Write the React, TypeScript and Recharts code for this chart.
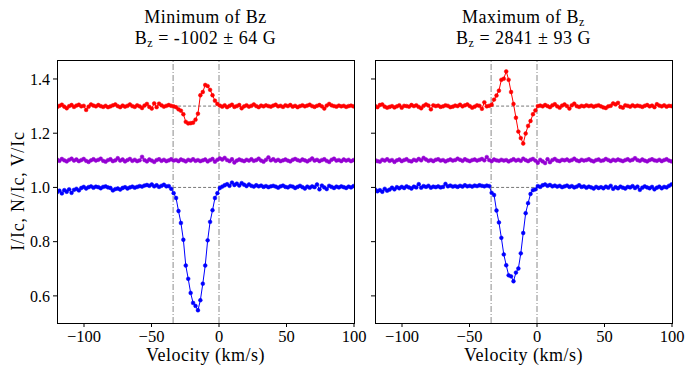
import { LineChart, Line, XAxis, YAxis, ReferenceLine } from 'recharts'

// LSD profiles, velocity grid in km/s (1.8 km/s steps)
const velocity = [
  -120, -118.2, -116.4, -114.6, -112.8, -111, -109.2, -107.4, -105.6, -103.8,
  -102, -100.2, -98.4, -96.6, -94.8, -93, -91.2, -89.4, -87.6, -85.8,
  -84, -82.2, -80.4, -78.6, -76.8, -75, -73.2, -71.4, -69.6, -67.8,
  -66, -64.2, -62.4, -60.6, -58.8, -57, -55.2, -53.4, -51.6, -49.8,
  -48, -46.2, -44.4, -42.6, -40.8, -39, -37.2, -35.4, -33.6, -31.8,
  -30, -28.2, -26.4, -24.6, -22.8, -21, -19.2, -17.4, -15.6, -13.8,
  -12, -10.2, -8.4, -6.6, -4.8, -3, -1.2, 0.6, 2.4, 4.2,
  6, 7.8, 9.6, 11.4, 13.2, 15, 16.8, 18.6, 20.4, 22.2,
  24, 25.8, 27.6, 29.4, 31.2, 33, 34.8, 36.6, 38.4, 40.2,
  42, 43.8, 45.6, 47.4, 49.2, 51, 52.8, 54.6, 56.4, 58.2,
  60, 61.8, 63.6, 65.4, 67.2, 69, 70.8, 72.6, 74.4, 76.2,
  78, 79.8, 81.6, 83.4, 85.2, 87, 88.8, 90.6, 92.4, 94.2,
  96, 97.8, 99.6,
]

// minimum of Bz: Stokes V (+0.3), null N (+0.1), intensity I
const minV = [
  1.296, 1.301, 1.305, 1.298, 1.292, 1.300, 1.304, 1.297, 1.302, 1.305,
  1.299, 1.301, 1.286, 1.298, 1.306, 1.302, 1.299, 1.304, 1.300, 1.297,
  1.301, 1.296, 1.299, 1.303, 1.306, 1.300, 1.296, 1.302, 1.298, 1.301,
  1.306, 1.300, 1.297, 1.303, 1.299, 1.293, 1.302, 1.308, 1.297, 1.291,
  1.310, 1.296, 1.309, 1.303, 1.298, 1.301, 1.304,
  1.301, 1.299, 1.296, 1.288, 1.283, 1.270, 1.242, 1.236, 1.237, 1.239,
  1.250, 1.272, 1.340, 1.352, 1.378, 1.374, 1.360, 1.340, 1.320, 1.308, 1.302,
  1.298, 1.303, 1.296, 1.301, 1.305, 1.297, 1.300, 1.304, 1.292, 1.299,
  1.303, 1.298, 1.301, 1.306, 1.300, 1.296, 1.302, 1.299, 1.303, 1.300,
  1.298, 1.302, 1.305, 1.299, 1.301, 1.297, 1.303, 1.300, 1.304, 1.298,
  1.301, 1.296, 1.300, 1.303, 1.299, 1.302, 1.305, 1.300, 1.297, 1.301,
  1.304, 1.299, 1.291, 1.302, 1.308, 1.303, 1.300, 1.298, 1.302, 1.299,
  1.301, 1.297, 1.300, 1.302, 1.299,
]
const minN = [
  1.103, 1.098, 1.105, 1.100, 1.096, 1.102, 1.106, 1.099, 1.103, 1.097,
  1.101, 1.105, 1.098, 1.094, 1.100, 1.104, 1.099, 1.102, 1.106, 1.098,
  1.095, 1.101, 1.104, 1.097, 1.100, 1.108, 1.099, 1.103, 1.096, 1.101,
  1.105, 1.098, 1.102, 1.097, 1.100, 1.113, 1.101, 1.096, 1.103, 1.099,
  1.094, 1.101, 1.104, 1.098, 1.102, 1.097, 1.100, 1.104, 1.099, 1.101,
  1.097, 1.103, 1.100, 1.096, 1.102, 1.099, 1.104, 1.098, 1.101, 1.097,
  1.100, 1.103, 1.096, 1.101, 1.105, 1.095, 1.102, 1.107, 1.103, 1.109,
  1.101, 1.097, 1.104, 1.092, 1.099, 1.103, 1.100, 1.097, 1.102, 1.099,
  1.104, 1.098, 1.101, 1.106, 1.099, 1.095, 1.102, 1.111, 1.100, 1.104,
  1.098, 1.102, 1.097, 1.100, 1.103, 1.099, 1.096, 1.102, 1.105, 1.101,
  1.098, 1.103, 1.100, 1.096, 1.101, 1.107, 1.099, 1.102, 1.097, 1.101,
  1.104, 1.098, 1.094, 1.102, 1.106, 1.099, 1.101, 1.097, 1.103, 1.099,
  1.102, 1.097, 1.101,
]
const minI = [
  0.982, 0.988, 0.978, 0.990, 0.984, 0.993, 0.980, 0.991, 0.995, 0.989,
  0.998, 1.002, 0.996, 1.001, 1.004, 0.999, 1.003, 1.001, 0.997, 1.002,
  1.004, 1.000, 0.998, 0.989, 0.994, 0.996, 0.992, 0.998, 1.001, 0.996,
  1.000, 1.003, 0.999, 1.002, 1.005, 1.003, 1.007, 1.009, 1.006, 1.011,
  1.004, 1.008, 1.002, 1.006, 1.010, 1.004,
  1.005, 0.995, 0.979, 0.961, 0.913, 0.869, 0.807, 0.712, 0.663, 0.611,
  0.574, 0.563, 0.547, 0.584, 0.645, 0.712, 0.805, 0.873, 0.916, 0.961,
  0.979, 0.998,
  1.003, 1.008, 1.012, 1.006, 1.018, 1.009, 1.014, 1.007, 1.016, 1.010,
  1.005, 1.011, 1.006, 1.003, 1.008, 1.004, 1.007, 1.002, 1.005, 1.001,
  1.004, 1.006, 1.003, 0.999, 1.004, 1.007, 1.002, 1.000, 1.005, 1.003,
  0.998, 1.002, 1.006, 1.001, 0.996, 1.003, 0.999, 1.004, 1.001, 1.011,
  0.993, 1.007, 1.000, 0.994, 1.006, 1.002, 0.998, 1.003, 1.000, 1.004,
  1.001, 0.998, 1.003, 1.000, 1.005,
]

// maximum of Bz
const maxV = [
  1.301, 1.296, 1.304, 1.306, 1.298, 1.294, 1.297, 1.300, 1.295, 1.299,
  1.303, 1.294, 1.301, 1.300, 1.298, 1.304, 1.300, 1.303, 1.297, 1.292,
  1.301, 1.306, 1.302, 1.288, 1.303, 1.300, 1.302, 1.297, 1.299, 1.303,
  1.301, 1.296, 1.298, 1.302, 1.300, 1.305, 1.299, 1.303, 1.306, 1.300,
  1.294, 1.298, 1.303, 1.301, 1.290,
  1.314, 1.299, 1.301, 1.305, 1.324, 1.339, 1.357, 1.397, 1.401, 1.428,
  1.397, 1.352, 1.308, 1.257, 1.206, 1.182, 1.162, 1.199, 1.227, 1.245,
  1.270, 1.284, 1.300,
  1.302, 1.299, 1.304, 1.300, 1.296, 1.303, 1.307, 1.299, 1.294, 1.302,
  1.306, 1.300, 1.291, 1.303, 1.309, 1.300, 1.297, 1.301, 1.299, 1.303,
  1.300, 1.302, 1.298, 1.301, 1.303, 1.299, 1.295, 1.293, 1.299, 1.301,
  1.310, 1.306, 1.312, 1.297, 1.294, 1.303, 1.301, 1.298, 1.303, 1.299,
  1.302, 1.300, 1.297, 1.301, 1.304, 1.299, 1.302, 1.296, 1.307, 1.302,
  1.299, 1.303, 1.298, 1.301, 1.300,
]
const maxN = [
  1.101, 1.097, 1.095, 1.102, 1.099, 1.104, 1.098, 1.101, 1.094, 1.100,
  1.103, 1.097, 1.101, 1.104, 1.098, 1.096, 1.102, 1.099, 1.105, 1.100,
  1.109, 1.103, 1.098, 1.101, 1.097, 1.102, 1.104, 1.099, 1.101, 1.096,
  1.100, 1.103, 1.099, 1.101, 1.106, 1.102, 1.098, 1.104, 1.100, 1.097,
  1.101, 1.103, 1.099, 1.102, 1.105, 1.100, 1.112, 1.101, 1.097, 1.103,
  1.100, 1.098, 1.102, 1.099, 1.101, 1.096, 1.100, 1.104, 1.099, 1.102,
  1.098, 1.106, 1.101, 1.097, 1.102, 1.105, 1.099, 1.091, 1.102, 1.096,
  1.090, 1.104, 1.093, 1.101, 1.105, 1.099, 1.097, 1.102, 1.100, 1.103,
  1.098, 1.101, 1.106, 1.100, 1.097, 1.102, 1.099, 1.101, 1.104, 1.099,
  1.096, 1.101, 1.103, 1.098, 1.100, 1.105, 1.101, 1.097, 1.102, 1.099,
  1.103, 1.100, 1.097, 1.101, 1.104, 1.099, 1.102, 1.108, 1.101, 1.098,
  1.103, 1.099, 1.096, 1.101, 1.104, 1.100, 1.098, 1.102, 1.097, 1.101,
  1.104, 1.099, 1.096,
]
const maxI = [
  0.993, 0.986, 0.990, 0.984, 0.995, 0.988, 0.992, 0.999, 0.993, 1.001,
  0.997, 1.002, 0.998, 1.004, 1.000, 0.996, 1.003, 1.000, 1.012, 0.999,
  1.005, 1.002, 1.006, 0.999, 1.003, 1.001, 1.004, 1.000, 1.002, 1.013,
  1.004, 1.007, 1.003, 1.005, 1.002, 1.006, 1.003, 1.008, 1.004, 1.006,
  1.003, 1.007, 1.005, 1.008, 1.006, 1.004, 1.007, 1.005,
  0.980, 0.972, 0.915, 0.871, 0.814, 0.753, 0.713, 0.676, 0.672, 0.654,
  0.686, 0.701, 0.757, 0.832, 0.905, 0.942, 0.976, 0.990, 0.993, 1.005,
  1.002, 1.008, 1.011, 1.006, 1.009, 1.004, 1.007, 1.003, 1.006, 1.001,
  1.004, 1.007, 1.002, 1.005, 1.000, 1.003, 1.008, 1.002, 1.004, 0.999,
  1.003, 1.000, 0.996, 1.002, 0.998, 1.001, 0.997, 1.003, 0.999, 1.006,
  0.995, 1.001, 0.997, 1.003, 0.999, 0.996, 1.002, 1.000, 1.005, 0.998,
  1.003, 0.991, 0.999, 1.004, 1.000, 0.997, 1.002, 0.993, 0.999, 1.003,
  0.997, 1.002, 1.000, 1.006, 1.011,
]

const xTicks = [-100, -50, 0, 50, 100]
const yTicks = [0.6, 0.8, 1.0, 1.2, 1.4]
const lineLimits = [-34, 0]

const font = '"Liberation Serif", "DejaVu Serif", serif'
const W = 688
const H = 368
const TOP = 60
const XAXIS_H = 45

const fmtX = (t: number) => (t < 0 ? '\u2212' + Math.abs(t) : String(t))

function Panel({ v, n, i, plotLeft, showLabels }: any) {
  const data = velocity.map((x, k) => ({ x, v: v[k], n: n[k], i: i[k] }))
  const yw = showLabels ? 49 : 10
  const plotW = 297
  return (
    <div style={{ position: 'absolute', left: 0, top: 0 }}>
      <LineChart
        width={W}
        height={H}
        data={data}
        margin={{ top: TOP, left: plotLeft - yw, right: W - plotLeft - plotW, bottom: 0 }}
      >
        <XAxis
          dataKey="x"
          type="number"
          domain={[-120, 100]}
          allowDataOverflow
          ticks={xTicks}
          tickFormatter={fmtX}
          height={XAXIS_H}
          axisLine={false}
          tickSize={4}
          tickMargin={3}
          tickLine={{ stroke: '#000' }}
          tick={{ fill: '#000', fontSize: 16.5, fontFamily: font }}
        />
        <YAxis
          type="number"
          domain={[0.5, 1.47]}
          allowDataOverflow
          ticks={yTicks}
          width={yw}
          axisLine={false}
          tickSize={4}
          tickMargin={3}
          tickLine={{ stroke: '#000' }}
          tickFormatter={(t: number) => (showLabels ? t.toFixed(1) : '')}
          tick={{ fill: '#000', fontSize: 16, fontFamily: font }}
        />
        {lineLimits.map((x) => (
          <ReferenceLine key={x} x={x} stroke="#8a8a8a" strokeDasharray="6 2 1 2" />
        ))}
        <ReferenceLine
          segment={[{ x: lineLimits[0], y: 1.3 }, { x: lineLimits[1], y: 1.3 }]}
          stroke="#777"
          strokeDasharray="3 2"
        />
        <ReferenceLine
          segment={[{ x: lineLimits[0], y: 1.0 }, { x: lineLimits[1], y: 1.0 }]}
          stroke="#777"
          strokeDasharray="3 2"
        />
        <Line dataKey="v" type="linear" stroke="#ff0000" strokeWidth={1}
          dot={{ r: 1.9, fill: '#ff0000', stroke: '#ff0000', strokeWidth: 0.5 }} isAnimationActive={false} />
        <Line dataKey="n" type="linear" stroke="#9400d3" strokeWidth={1}
          dot={{ r: 1.9, fill: '#9400d3', stroke: '#9400d3', strokeWidth: 0.5 }} isAnimationActive={false} />
        <Line dataKey="i" type="linear" stroke="#0000ff" strokeWidth={1}
          dot={{ r: 1.9, fill: '#0000ff', stroke: '#0000ff', strokeWidth: 0.5 }} isAnimationActive={false} />
      </LineChart>
      <div
        style={{
          position: 'absolute', left: plotLeft, top: TOP, width: plotW + 1, height: H - TOP - XAXIS_H + 1,
          border: '1px solid #000', boxSizing: 'border-box', pointerEvents: 'none',
        }}
      />
    </div>
  )
}

const textStyle: any = { fontFamily: font, fontSize: 18, color: '#000', letterSpacing: 0.5, whiteSpace: 'nowrap' }
const sub = <span style={{ fontSize: 12, position: 'relative', top: 3, lineHeight: '12px' }}>z</span>

function Title({ cx, line1, line2 }: any) {
  return (
    <div style={{ ...textStyle, position: 'absolute', left: cx - 150, top: 7, width: 300, textAlign: 'center', lineHeight: '21px' }}>
      <div style={{ height: 21 }}>{line1}</div>
      <div style={{ height: 21 }}>{line2}</div>
    </div>
  )
}

function XLabel({ cx }: any) {
  return (
    <div style={{ ...textStyle, position: 'absolute', left: cx - 100, top: 344, width: 200, textAlign: 'center', lineHeight: '22px' }}>
      Velocity (km/s)
    </div>
  )
}

export default function App() {
  return (
    <div style={{ position: 'absolute', left: 0, top: 0, width: W, height: H, background: '#fff', overflow: 'hidden' }}>
      <Panel v={minV} n={minN} i={minI} plotLeft={57} showLabels />
      <Panel v={maxV} n={maxN} i={maxI} plotLeft={375} showLabels={false} />
      <Title cx={205.5} line1="Minimum of Bz" line2={<span>B{sub} = -1002 ± 64 G</span>} />
      <Title cx={523.5} line1={<span>Maximum of B{sub}</span>} line2={<span>B{sub} = 2841 ± 93 G</span>} />
      <XLabel cx={205.5} />
      <XLabel cx={523.5} />
      <div
        style={{
          ...textStyle, position: 'absolute', left: 18, top: 191, letterSpacing: 0.8,
          transform: 'translate(-50%, -50%) rotate(-90deg)', lineHeight: '20px',
        }}
      >
        I/Ic, N/Ic, V/Ic
      </div>
    </div>
  )
}
